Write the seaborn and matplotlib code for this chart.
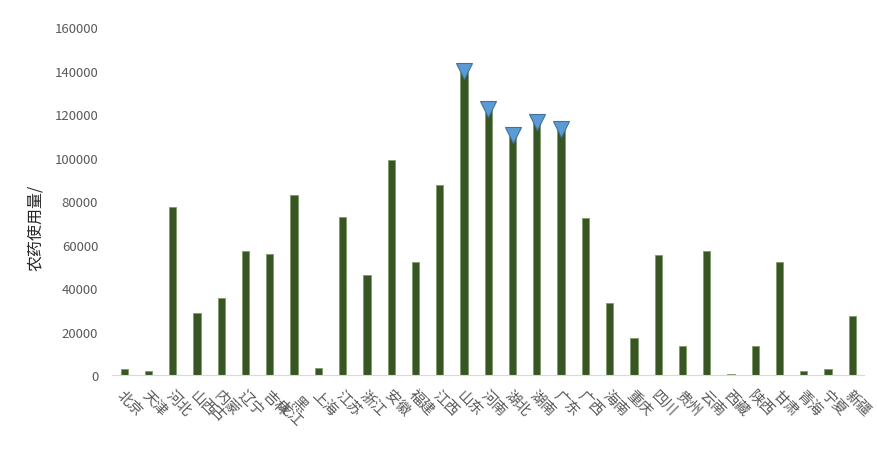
import matplotlib
matplotlib.use("Agg")
import matplotlib.pyplot as plt
import seaborn as sns
import pandas as pd

# province names (wrapped the way the original chart shows them)
provinces = ["北京", "天津", "河北", "山西", "内蒙\n古", "辽宁", "吉林", "黑\n龙江",
             "上海", "江苏", "浙江", "安徽", "福建", "江西", "山东", "河南",
             "湖北", "湖南", "广东", "广西", "海南", "重庆", "四川", "贵州",
             "云南", "西藏", "陕西", "甘肃", "青海", "宁夏", "新疆"]
pesticide = [2700, 1900, 77400, 28500, 35400, 56900, 55700, 82900,
             3100, 72800, 46100, 98900, 51800, 87400, 139800, 122400,
             110400, 116400, 113200, 72200, 33000, 17000, 55000, 13200,
             56900, 600, 13200, 52000, 1900, 2600, 27300]
# provinces flagged with a marker on top
flagged = ["山东", "河南", "湖北", "湖南", "广东"]
y_ticks = [0, 20000, 40000, 60000, 80000, 100000, 120000, 140000, 160000]

sns.set_style("white")
plt.rcParams["font.family"] = ["Noto Sans CJK SC", "DejaVu Sans"]

df = pd.DataFrame({"省份": provinces, "农药使用量": pesticide})

fig = plt.figure(figsize=(8.78, 4.6), dpi=100)
ax = fig.add_axes([0.1276, 0.1826, 0.857, 0.7565])

sns.barplot(data=df, x="省份", y="农药使用量", color="#375623", width=0.3,
            edgecolor="#7f9a6a", linewidth=0.6, saturation=1, ax=ax)

# triangle markers on the highlighted bars
idx = [provinces.index(p) for p in flagged]
vals = [pesticide[i] for i in idx]
ax.plot(idx, vals, linestyle="none", marker="v", markersize=12,
        markerfacecolor="#5B9BD5", markeredgecolor="#41719C", markeredgewidth=0.8)

ax.set_ylim(0, 160000)
ax.set_xlim(-0.5, len(provinces) - 0.5)
ax.set_yticks(y_ticks)
ax.set_yticklabels([str(t) for t in y_ticks], color="#595959", fontsize=9.5)
ax.tick_params(axis="y", length=0, pad=10)
ax.tick_params(axis="x", length=0, pad=9)
for lab in ax.get_xticklabels():
    lab.set_rotation(-45)
    lab.set_ha("left")
    lab.set_va("top")
    lab.set_rotation_mode("anchor")
    lab.set_multialignment("center")
    lab.set_color("#595959")
    lab.set_fontsize(10.5)
    lab.set_linespacing(1.0)

ax.set_xlabel("")
ax.set_ylabel("农药使用量/", fontsize=11.5, color="#262626")
ax.yaxis.set_label_coords(-0.09, 0.425)

sns.despine(ax=ax, left=True)
ax.spines["bottom"].set_color("#D9D9D9")

fig.savefig("out.png", dpi=100)
